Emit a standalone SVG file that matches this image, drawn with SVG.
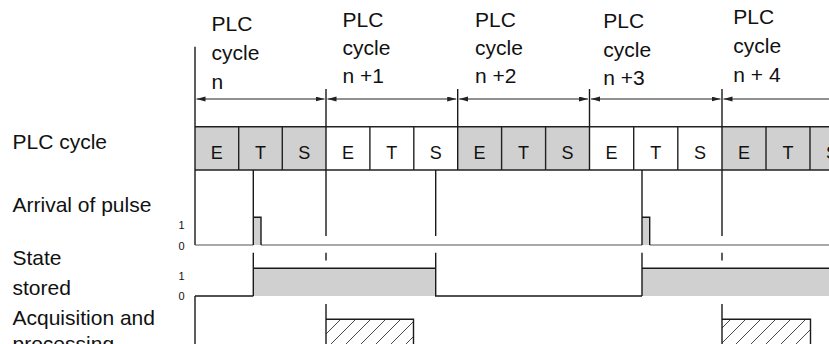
<svg xmlns="http://www.w3.org/2000/svg" width="829" height="344" viewBox="0 0 829 344">
<style>
text{font-family:"Liberation Sans",Arial,sans-serif;fill:#111}
.lbl{font-size:21px}
.cell{font-size:18px;text-anchor:middle}
.dig{font-size:11px;text-anchor:middle}
.ln{fill:none;stroke:#1a1a1a;stroke-width:1.4}
.lg{fill:none;stroke:#555;stroke-width:1.2}
.arr{fill:none;stroke:#222;stroke-width:1.2;marker-start:url(#ah);marker-end:url(#ah)}
.g{fill:#d0d0d0}
.cellbox{stroke:#222;stroke-width:1.4}
</style>
<defs>
<marker id="ah" markerUnits="userSpaceOnUse" markerWidth="10" markerHeight="6" refX="9" refY="2.5" orient="auto-start-reverse">
<path d="M0,0 L9,2.5 L0,5 z" fill="#222"/>
</marker>
<pattern id="hatch" patternUnits="userSpaceOnUse" width="15" height="15">
<path d="M0,15 L15,0 M-3.75,3.75 L3.75,-3.75 M11.25,18.75 L18.75,11.25" stroke="#333" stroke-width="0.9"/>
</pattern>
</defs>

<g id="row-labels">
<text class="lbl" x="12.5" y="148.5">PLC cycle</text>
<text class="lbl" x="12.5" y="211.7">Arrival of pulse</text>
<text class="lbl" x="12.5" y="265">State</text>
<text class="lbl" x="12.5" y="294.5">stored</text>
<text class="lbl" x="12.5" y="325">Acquisition and</text>
<text class="lbl" x="12.5" y="350.5">processing</text>
</g>

<g id="cycle-labels">
<g id="cycle-n"><text class="lbl" x="211.5" y="31">PLC</text><text class="lbl" x="211.5" y="60">cycle</text><text class="lbl" x="211.5" y="89">n</text></g>
<g id="cycle-n1"><text class="lbl" x="342.5" y="26.7">PLC</text><text class="lbl" x="342.5" y="55">cycle</text><text class="lbl" x="342.5" y="83.3">n +1</text></g>
<g id="cycle-n2"><text class="lbl" x="475" y="26.7">PLC</text><text class="lbl" x="475" y="55">cycle</text><text class="lbl" x="475" y="83.3">n +2</text></g>
<g id="cycle-n3"><text class="lbl" x="603.3" y="28.3">PLC</text><text class="lbl" x="603.3" y="56.7">cycle</text><text class="lbl" x="603.3" y="85">n +3</text></g>
<g id="cycle-n4"><text class="lbl" x="733.3" y="24.3">PLC</text><text class="lbl" x="733.3" y="53">cycle</text><text class="lbl" x="733.3" y="81.7">n + 4</text></g>
</g>

<g id="cycle-row">
<rect class="g" x="195" y="126.7" width="131" height="43.3"/>
<rect class="g" x="457.7" y="126.7" width="131.8" height="43.3"/>
<rect class="g" x="722" y="126.7" width="110" height="43.3"/>
<path class="cellbox" fill="none" d="M195,126.7 H830 M195,170 H830 M238.7,126.7 V170 M282.3,126.7 V170 M369.9,126.7 V170 M413.8,126.7 V170 M501.6,126.7 V170 M545.6,126.7 V170 M633.7,126.7 V170 M677.8,126.7 V170 M766,126.7 V170 M810,126.7 V170"/>
<text class="cell" x="216.8" y="158.5">E</text>
<text class="cell" x="260.5" y="158.5">T</text>
<text class="cell" x="304.2" y="158.5">S</text>
<text class="cell" x="348" y="158.5">E</text>
<text class="cell" x="391.8" y="158.5">T</text>
<text class="cell" x="435.7" y="158.5">S</text>
<text class="cell" x="479.6" y="158.5">E</text>
<text class="cell" x="523.6" y="158.5">T</text>
<text class="cell" x="567.5" y="158.5">S</text>
<text class="cell" x="611.6" y="158.5">E</text>
<text class="cell" x="655.7" y="158.5">T</text>
<text class="cell" x="699.9" y="158.5">S</text>
<text class="cell" x="744" y="158.5">E</text>
<text class="cell" x="788" y="158.5">T</text>
<text class="cell" x="832" y="158.5">S</text>
</g>

<g id="connectors">
<path class="ln" d="M195,46.7 V245 M195,296 V350"/>
<path class="ln" d="M326,89 V236 M326,252.7 V260.5 M457.7,89 V170 M589.5,89 V170 M722,89 V236 M722,252.7 V260.5 M435.7,170 V236"/>
<line class="arr" x1="196.5" y1="99" x2="324.5" y2="99"/>
<line class="arr" x1="327.5" y1="99" x2="456.2" y2="99"/>
<line class="arr" x1="459.2" y1="99" x2="588" y2="99"/>
<line class="arr" x1="591" y1="99" x2="720.5" y2="99"/>
<line class="arr" x1="723.5" y1="99" x2="860" y2="99"/>
</g>

<g id="arrival-signal">
<rect class="g" x="253.3" y="217.3" width="7.7" height="27.7"/>
<rect class="g" x="642" y="217.3" width="7.7" height="27.7"/>
<path class="lg" d="M195,245 H253.3 M261,245 H642 M649.7,245 H830"/>
<path class="ln" d="M253.3,170 V245 M253.3,217.3 H261 V245 M642,170 V245 M642,217.3 H649.7 V245"/>
<text class="dig" x="181.5" y="229">1</text>
<text class="dig" x="181.5" y="249.5">0</text>
</g>

<g id="state-signal">
<rect class="g" x="253.3" y="268.3" width="182.4" height="27.7"/>
<rect class="g" x="642" y="268.3" width="190" height="27.7"/>
<path class="ln" d="M195,296 H253.3 M253.3,252.7 V296 M253.3,268.3 H435.7 M435.7,252.7 V296 H642 M642,252.7 V296 M642,268.3 H830"/>
<text class="dig" x="181.5" y="280">1</text>
<text class="dig" x="181.5" y="300">0</text>
</g>

<g id="acquisition">
<rect x="326" y="319.3" width="87.5" height="30" fill="url(#hatch)"/>
<rect x="722" y="319.3" width="88.5" height="30" fill="url(#hatch)"/>
<path class="ln" d="M326,304 V350 M326,319.3 H413.5 V350 M722,304 V350 M722,319.3 H810.5 V350"/>
</g>
</svg>
